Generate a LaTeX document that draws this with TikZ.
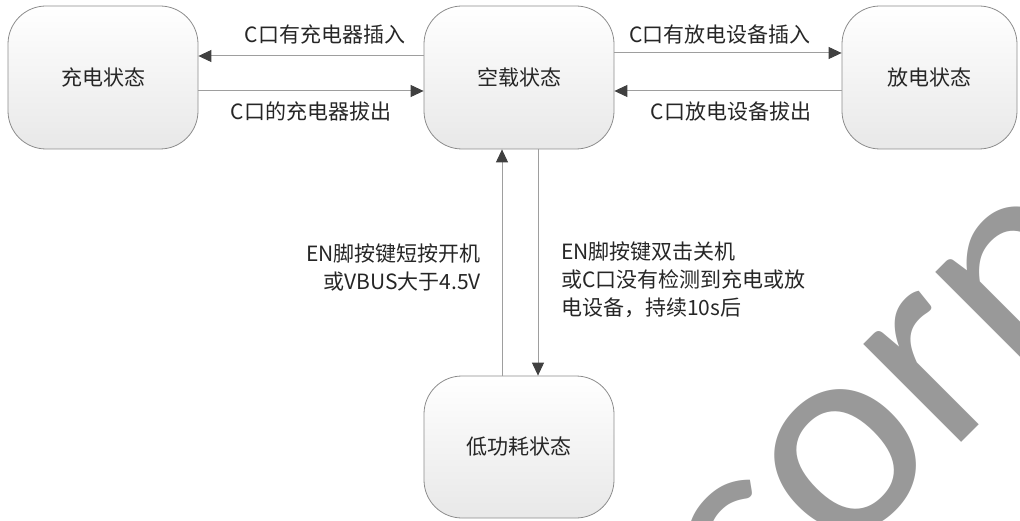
\documentclass[tikz,border=0pt]{standalone}
\usepackage{fontspec}
\usepackage{tikz}
\usetikzlibrary{arrows.meta}
\newfontfamily\cjk{Noto Sans CJK SC}
\newfontfamily\wmfont{Carlito}
\tikzset{
    state/.style={draw=black!45, line width=0.8pt, rounded corners=38pt,
        top color=white, bottom color=black!9, minimum width=190pt,
        minimum height=143pt, inner sep=0pt, text=black!85,
        font=\cjk\fontsize{21}{28}\selectfont},
    arr/.style={draw=black!38, line width=1pt,
        -{Triangle[length=13pt, width=12pt, color=black!75]}},
    lbl/.style={text=black!85, inner sep=0pt, font=\cjk\fontsize{21}{28}\selectfont}
}
\begin{document}
\begin{tikzpicture}[x=1pt, y=1pt]
    \useasboundingbox (0,0) rectangle (1020,520);
    \begin{scope}
        \clip (0,0) rectangle (1020,520);
        \node [anchor=base west, rotate=45, inner sep=0pt, text=black!40,
            font=\wmfont\fontsize{290}{300}\selectfont] (wm) at (755,-129) {corp};
    \end{scope}
    \node [state] (charge) at (103,442.5) {充电状态};
    \node [state] (idle) at (519,442.5) {空载状态};
    \node [state, minimum width=175pt] (discharge) at (929.5,442.5) {放电状态};
    \node [state, minimum height=142pt] (low) at (519,73) {低功耗状态};
    \draw [arr] ([yshift=21.5pt]idle.west) -- ([yshift=21.5pt]charge.east);
    \draw [arr] ([yshift=-13.5pt]charge.east) -- ([yshift=-13.5pt]idle.west);
    \draw [arr] ([yshift=24.5pt]idle.east) -- ([yshift=24.5pt]discharge.west);
    \draw [arr] ([yshift=-13.5pt]discharge.west) -- ([yshift=-13.5pt]idle.east);
    \draw [arr] ([xshift=-17pt]low.north) -- ([xshift=-17pt]idle.south);
    \draw [arr] ([xshift=19pt]idle.south) -- ([xshift=19pt]low.north);
    \node [lbl] (plugc) at (325,485) {C口有充电器插入};
    \node [lbl] (unplugc) at (311,408) {C口的充电器拔出};
    \node [lbl] (plugd) at (720,485) {C口有放电设备插入};
    \node [lbl] (unplugd) at (731,408) {C口放电设备拔出};
    \node [lbl, align=right, anchor=east] (wake) at (481,252.5)
        {EN脚按键短按开机\\或VBUS大于4.5V};
    \node [lbl, align=left, anchor=west] (sleep) at (561,240.5)
        {EN脚按键双击关机\\或C口没有检测到充电或放\\电设备，持续10s后};
\end{tikzpicture}
\end{document}
